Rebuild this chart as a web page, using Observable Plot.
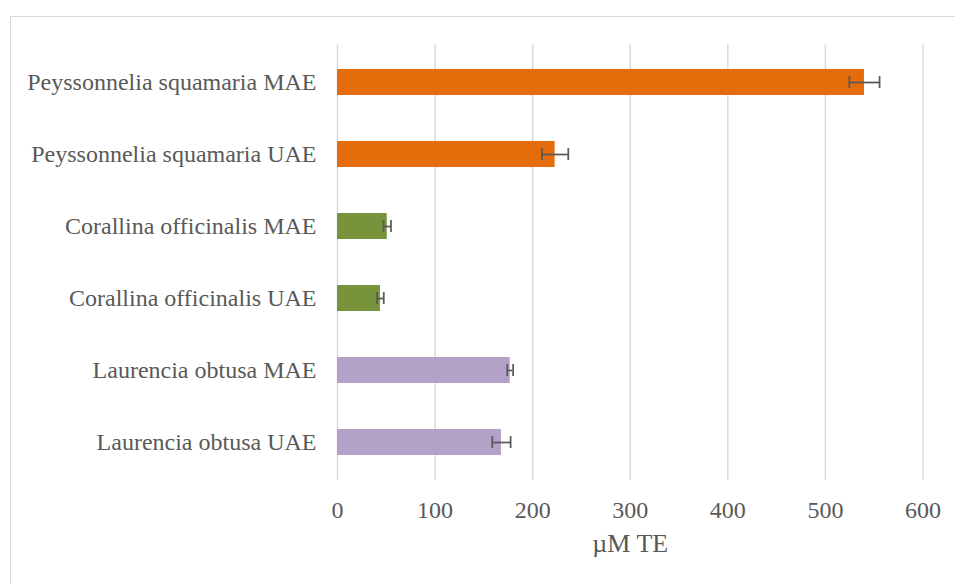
<!DOCTYPE html>
<html>
<head>
<meta charset="utf-8">
<script src="https://cdn.jsdelivr.net/npm/d3@7"></script>
<script src="https://cdn.jsdelivr.net/npm/@observablehq/plot@0.6"></script>
<style>
  html, body { margin: 0; padding: 0; background: #fff; overflow: hidden; }
  #wrap { position: relative; width: 955px; height: 584px; }
  #border { position: absolute; left: 9.5px; top: 16px; width: 1000px; height: 1000px;
            border: 1.5px solid #d9d9d9; box-sizing: border-box; }
  #chart { position: absolute; left: 0; top: 0; }
</style>
</head>
<body>
<div id="wrap"><div id="border"></div><div id="chart"></div></div>
<script>
const categories = [
  "Peyssonnelia squamaria MAE",
  "Peyssonnelia squamaria UAE",
  "Corallina officinalis MAE",
  "Corallina officinalis UAE",
  "Laurencia obtusa MAE",
  "Laurencia obtusa UAE"
];
const species = [
  "Peyssonnelia squamaria",
  "Peyssonnelia squamaria",
  "Corallina officinalis",
  "Corallina officinalis",
  "Laurencia obtusa",
  "Laurencia obtusa"
];
const values = [540, 223, 51, 44, 177, 168];
const errors = [15.5, 13.5, 3.8, 3.4, 3, 9.4];
const xTicks = [0, 100, 200, 300, 400, 500, 600];
const xLabel = "µM TE";

const speciesDomain = ["Peyssonnelia squamaria", "Corallina officinalis", "Laurencia obtusa"];
const speciesColors = ["#E46C0A", "#77933C", "#B3A2C7"];

const data = categories.map((c, i) => ({
  cat: c, sp: species[i], v: values[i], lo: values[i] - errors[i], hi: values[i] + errors[i]
}));

const chart = Plot.plot({
  width: 955,
  height: 584,
  marginLeft: 337,
  marginRight: 32.5,
  marginTop: 44.5,
  marginBottom: 104,
  style: { fontFamily: "'Liberation Serif', 'Times New Roman', serif", fontSize: "24px", color: "#595959", background: "transparent" },
  x: { domain: [0, 600] },
  y: { domain: categories, paddingInner: 0.64, paddingOuter: 0.32, label: null },
  color: { domain: speciesDomain, range: speciesColors },
  marks: [
    Plot.gridX(xTicks, { stroke: "#D9D9D9", strokeOpacity: 1, strokeWidth: 1.5 }),
    Plot.barX(data, { y: "cat", x: "v", fill: "sp" }),
    Plot.ruleY(data, { y: "cat", x1: "lo", x2: "hi", stroke: "#595959", strokeWidth: 1.75 }),
    Plot.tickX(data, { y: "cat", x: "lo", stroke: "#595959", strokeWidth: 1.75, insetTop: 7, insetBottom: 7 }),
    Plot.tickX(data, { y: "cat", x: "hi", stroke: "#595959", strokeWidth: 1.75, insetTop: 7, insetBottom: 7 }),
    Plot.axisY({ tickSize: 0, tickPadding: 21, label: null, fontSize: 24 }),
    Plot.axisX({ ticks: xTicks, tickSize: 0, tickPadding: 20, label: null, fontSize: 24 }),
    Plot.text([xLabel], { text: d => d, frameAnchor: "bottom", dy: 71, fontSize: 26, fill: "#595959" })
  ]
});
document.getElementById("chart").appendChild(chart);
</script>
</body>
</html>
